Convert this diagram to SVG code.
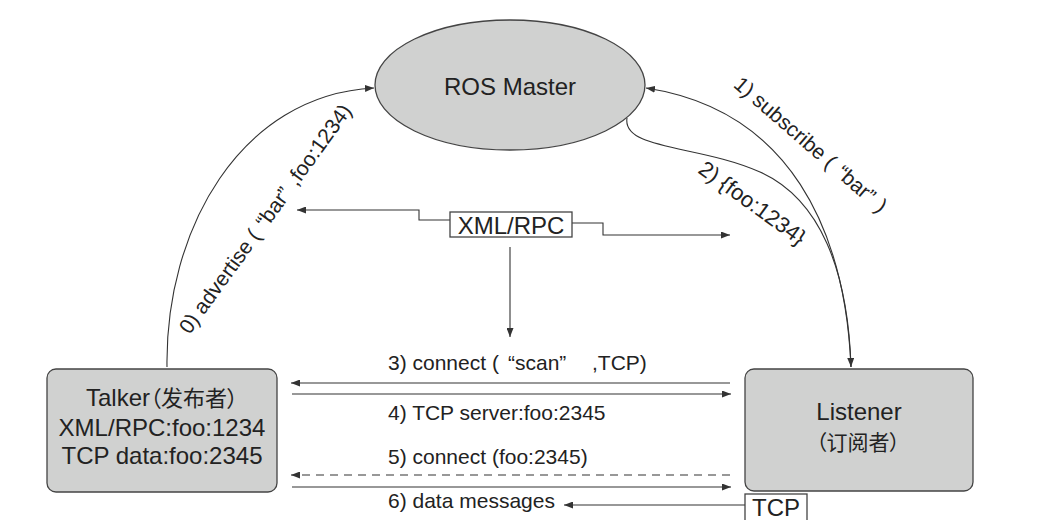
<svg xmlns="http://www.w3.org/2000/svg" width="1048" height="520" viewBox="0 0 1048 520">
<defs>
<marker id="ah" markerUnits="userSpaceOnUse" markerWidth="9" markerHeight="7" refX="9" refY="3.5" orient="auto">
<path d="M0,0 L9,3.5 L0,7 z" fill="#333"/>
</marker>
<style>
.node{fill:#d0d1d0;stroke:#444;stroke-width:1.3}
.box{fill:#fff;stroke:#444;stroke-width:1.3}
.ln{fill:none;stroke:#333;stroke-width:1.1}
.arr{marker-end:url(#ah)}
.dash{stroke-dasharray:8,6}
text{font-family:"Liberation Sans","Noto Sans CJK SC",sans-serif;fill:#222}
.big{font-size:24px;text-anchor:middle}
.cjk{font-size:22px;font-family:"Noto Sans CJK SC",sans-serif;font-feature-settings:"palt"}
.lbl{font-size:21px}
.rot{font-size:21px;text-anchor:middle}
</style>
</defs>
<rect width="1048" height="520" fill="#fff"/>
<g id="connectors">
<path class="ln arr" d="M167,367 C165,230 240,95 374,88"/>
<path class="ln arr" d="M851,367 C845,230 790,110 646,88"/>
<path class="ln arr" d="M627,118 C622,150 700,145 760,172 S848,270 851,367"/>
<path class="ln arr" d="M450,220 H419 V210 H297"/>
<path class="ln arr" d="M572,223 H603 V235 H730"/>
<path class="ln arr" d="M510,247 V337"/>
<path class="ln arr" d="M730,383 H291"/>
<path class="ln arr" d="M292,394 H731"/>
<path class="ln arr dash" d="M730,475 H291"/>
<path class="ln arr" d="M292,487 H731"/>
<path class="ln arr" d="M745,505 H564"/>
</g>
<g id="labels">
<text class="rot" transform="translate(271,223) rotate(-54)">0) advertise (<tspan dx="8">“bar”</tspan><tspan dx="8">,foo:1234)</tspan></text>
<text class="rot" transform="translate(806,150) rotate(41)">1) subscribe (<tspan dx="8">“bar”</tspan><tspan dx="8">)</tspan></text>
<text class="rot" transform="translate(748,209) rotate(36)" style="font-size:22px">2) {foo:1234}</text>
<text class="lbl" x="388" y="370">3) connect (<tspan x="508">“scan”</tspan><tspan x="592">,TCP)</tspan></text>
<text class="lbl" x="388" y="420">4) TCP server:foo:2345</text>
<text class="lbl" x="388" y="464">5) connect (foo:2345)</text>
<text class="lbl" x="388" y="508">6) data messages</text>
</g>
<g id="master">
<ellipse class="node" cx="510" cy="85" rx="135" ry="65"/>
<text class="big" x="510" y="95">ROS Master</text>
</g>
<g id="xmlrpc">
<rect class="box" x="450" y="212" width="122" height="25"/>
<text class="big" x="511" y="234">XML/RPC</text>
</g>
<g id="talker">
<rect class="node" x="47" y="369" width="230" height="123" rx="9"/>
<text class="big" x="162" y="406">Talker<tspan class="cjk">（发布者）</tspan></text>
<text class="big" x="162" y="436">XML/RPC:foo:1234</text>
<text class="big" x="162" y="464">TCP data:foo:2345</text>
</g>
<g id="listener">
<rect class="node" x="745" y="369" width="228" height="122" rx="9"/>
<text class="big" x="859" y="420">Listener</text>
<text class="big cjk" x="858" y="450" style="font-size:21px">（订阅者）</text>
</g>
<g id="tcp">
<rect class="box" x="745" y="494" width="62" height="30"/>
<text class="big" x="776" y="516">TCP</text>
</g>
</svg>
